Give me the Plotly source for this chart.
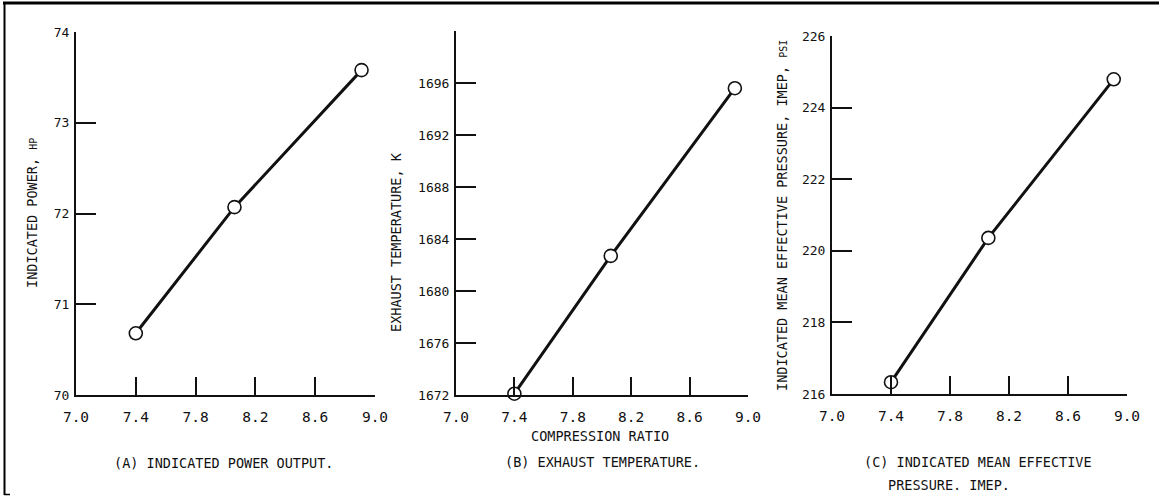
import plotly.graph_objects as go

# Engine performance vs. compression ratio
compression_ratio = [7.4, 8.06, 8.91]
indicated_power_hp = [70.68, 72.07, 73.58]
exhaust_temp_k = [1672.1, 1682.7, 1695.6]
imep_psi = [216.33, 220.36, 224.79]

x_ticks = [7.0, 7.4, 7.8, 8.2, 8.6, 9.0]
x_tick_text = ["7.0", "7.4", "7.8", "8.2", "8.6", "9.0"]
power_ticks = [70, 71, 72, 73, 74]
temp_ticks = [1672, 1676, 1680, 1684, 1688, 1692, 1696]
imep_ticks = [216, 218, 220, 222, 224, 226]

W, H = 1159, 496
INK = "#111111"
FONT = "DejaVu Sans Mono"


def px(x):
    return x / W


def py(y):
    return 1 - y / H


fig = go.Figure()

panels = [
    # (x pixel span, y pixel span, y values, y range, y ticks)
    ((76, 375), (32, 395), indicated_power_hp, [70, 74], power_ticks),
    ((456, 748), (31, 395), exhaust_temp_k, [1672, 1700], temp_ticks),
    ((832, 1127), (36, 394), imep_psi, [216, 226], imep_ticks),
]

layout_axes = {}
for i, ((x0, x1), (y0, y1), vals, yr, yt) in enumerate(panels, start=1):
    sfx = "" if i == 1 else str(i)
    fig.add_trace(go.Scatter(
        x=compression_ratio, y=vals, mode="lines+markers",
        xaxis="x" + sfx, yaxis="y" + sfx,
        line=dict(color=INK, width=3),
        marker=dict(symbol="circle", size=13, color="white",
                    line=dict(color=INK, width=1.6)),
        showlegend=False, cliponaxis=False,
    ))
    layout_axes["xaxis" + sfx] = dict(
        domain=[px(x0), px(x1)], range=[7.0, 9.0], anchor="y" + sfx,
        tickvals=x_ticks, ticktext=x_tick_text,
        ticks="inside", ticklen=18, tickwidth=2, tickcolor=INK,
        showline=True, linecolor=INK, linewidth=2,
        showgrid=False, zeroline=False, automargin=False,
        tickfont=dict(family=FONT, size=14.5, color=INK),
        ticklabelstandoff=8,
    )
    layout_axes["yaxis" + sfx] = dict(
        domain=[py(y1), py(y0)], range=yr, anchor="x" + sfx,
        tickvals=yt,
        ticks="inside", ticklen=20, tickwidth=2, tickcolor=INK,
        showline=True, linecolor=INK, linewidth=2,
        showgrid=False, zeroline=False, automargin=False,
        tickfont=dict(family=FONT, size=13, color=INK),
        ticklabelstandoff=2,
    )

fig.update_layout(**layout_axes)

small = '<span style="font-size:10px">{}</span>'
annotations = [
    # y-axis titles
    dict(x=px(32), y=py(213), text="INDICATED POWER, " + small.format("HP"),
         textangle=-90),
    dict(x=px(396), y=py(242), text="EXHAUST TEMPERATURE, K", textangle=-90),
    dict(x=px(782), y=py(216),
         text="INDICATED MEAN EFFECTIVE PRESSURE, IMEP, " + small.format("PSI"),
         textangle=-90),
    # x-axis title
    dict(x=px(600), y=py(436), text="COMPRESSION RATIO"),
    # panel captions
    dict(x=px(223), y=py(463), text="(A) INDICATED POWER OUTPUT."),
    dict(x=px(602), y=py(462), text="(B) EXHAUST TEMPERATURE."),
    dict(x=px(978), y=py(462), text="(C) INDICATED MEAN EFFECTIVE"),
    dict(x=px(949), y=py(485), text="PRESSURE. IMEP."),
]
for a in annotations:
    a.update(xref="paper", yref="paper", showarrow=False,
             xanchor="center", yanchor="middle",
             font=dict(family=FONT, size=13.5, color=INK))

frame = dict(type="line", xref="paper", yref="paper",
             line=dict(color="black"))
shapes = [
    dict(frame, x0=px(3), x1=px(1159), y0=py(3), y1=py(3),
         line=dict(color="black", width=3)),
    dict(frame, x0=px(4.5), x1=px(4.5), y0=py(2), y1=py(495),
         line=dict(color="black", width=2)),
    dict(frame, x0=px(4), x1=px(10), y0=py(494.5), y1=py(494.5),
         line=dict(color="black", width=1.5)),
]

fig.update_layout(
    width=W, height=H, autosize=False,
    margin=dict(l=0, r=0, t=0, b=0, pad=0, autoexpand=False),
    paper_bgcolor="white", plot_bgcolor="white",
    annotations=annotations, shapes=shapes,
)

fig.write_html(
    "out.html",
    config={"responsive": False, "displayModeBar": False},
    post_script="document.body.style.margin='0';"
                "document.body.style.overflow='hidden';",
)
